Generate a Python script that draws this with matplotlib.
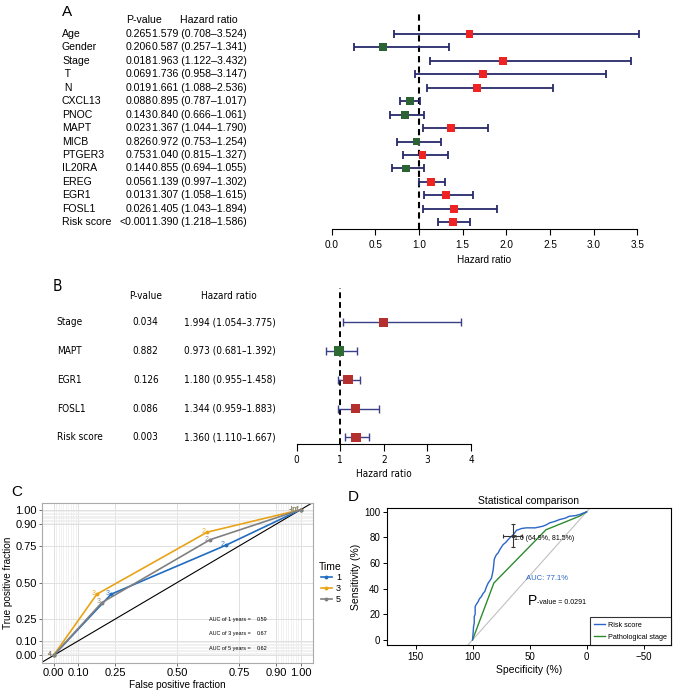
import numpy as np
import matplotlib
matplotlib.use('Agg')
import matplotlib.pyplot as plt
from matplotlib import font_manager
from matplotlib.transforms import blended_transform_factory
from matplotlib.lines import Line2D

W, H = 677, 695
plt.rcParams['font.family'] = ['Liberation Sans', 'DejaVu Sans']

# ---- panel A: univariate cox ----
a_names = ['Age', 'Gender', 'Stage', ' T', ' N', 'CXCL13', 'PNOC', 'MAPT', 'MICB',
           'PTGER3', 'IL20RA', 'EREG', 'EGR1', 'FOSL1', 'Risk score']
a_p = ['0.265', '0.206', '0.018', '0.069', '0.019', '0.088', '0.143', '0.023', '0.826',
       '0.753', '0.144', '0.056', '0.013', '0.026', '<0.001']
a_hr = [1.579, 0.587, 1.963, 1.736, 1.661, 0.895, 0.840, 1.367, 0.972, 1.040, 0.855, 1.139, 1.307, 1.405, 1.390]
a_lo = [0.708, 0.257, 1.122, 0.958, 1.088, 0.787, 0.666, 1.044, 0.753, 0.815, 0.694, 0.997, 1.058, 1.043, 1.218]
a_hi = [3.524, 1.341, 3.432, 3.147, 2.536, 1.017, 1.061, 1.790, 1.254, 1.327, 1.055, 1.302, 1.615, 1.894, 1.586]
a_ticks = [0.0, 0.5, 1.0, 1.5, 2.0, 2.5, 3.0, 3.5]

# ---- panel B: multivariate cox ----
b_names = ['Stage', 'MAPT', 'EGR1', 'FOSL1', 'Risk score']
b_p = ['0.034', '0.882', '0.126', '0.086', '0.003']
b_hr = [1.994, 0.973, 1.180, 1.344, 1.360]
b_lo = [1.054, 0.681, 0.955, 0.959, 1.110]
b_hi = [3.775, 1.392, 1.458, 1.883, 1.667]
b_ticks = [0, 1, 2, 3, 4]

# ---- panel C: time ROC ----
c_times = ['1', '3', '5']
c_fpr = {'1': [0, 0.233, 0.696, 1.0], '3': [0, 0.175, 0.622, 1.0], '5': [0, 0.195, 0.633, 1.0]}
c_tpr = {'1': [0, 0.42, 0.755, 1.0], '3': [0, 0.42, 0.846, 1.0], '5': [0, 0.362, 0.794, 1.0]}
c_cuts = ['4', '3', '2', '-Inf']
c_auc = ['0.59', '0.67', '0.62']
c_colors = {'1': '#1f6cc0', '3': '#e8a317', '5': '#808080'}
c_ticks = [0.0, 0.1, 0.25, 0.5, 0.75, 0.9, 1.0]
c_ticklabels = ['0.00', '0.10', '0.25', '0.50', '0.75', '0.90', '1.00']

# ---- panel D: ROC comparison ----
d_spec_rs = [100, 99.4, 99.1, 98.5, 98.5, 97.7, 97.7, 96.5, 95, 94, 92.1, 91, 89.2, 88, 86.3, 85,
             83.4, 82.5, 81.9, 81.5, 81, 80, 79, 77.5, 76.1, 75, 73.2, 71, 68.8, 67, 65, 63.5,
             61.5, 60, 57, 52.8, 45, 38.2, 35, 32.4, 28, 23.6, 19, 14.9, 10, 6.1, 3, 0]
d_sens_rs = [0, 6.5, 10.4, 13, 18.3, 20, 26.1, 28, 30, 32, 34, 36, 37.9, 41, 44.4, 46,
             48.3, 52, 54.8, 58, 62.7, 65, 66.6, 68, 70.5, 72, 74.4, 76, 78.3, 80, 81.5, 83,
             85.6, 86, 87, 87.5, 87.5, 88.8, 90, 91.4, 92.5, 94, 95, 96.6, 97, 97.9, 99, 100]
d_spec_st = [100, 81.3, 35.6, 6.5, 0]
d_sens_st = [0, 44.4, 86, 96.5, 100]
d_best = (64.9, 81.5)
d_best_xerr = (8.0, 8.3)
d_best_yerr = (9.0, 9.0)

# narrow font for panel B if one is installed
names = {f.name for f in font_manager.fontManager.ttflist}
cond_dv = any(f.name == 'DejaVu Sans' and f.stretch == 'condensed' for f in font_manager.fontManager.ttflist)
if 'Liberation Sans Narrow' in names:
    nfont = dict(family='Liberation Sans Narrow')
    bsize = 8
elif cond_dv:
    nfont = dict(family='DejaVu Sans', stretch='condensed')
    bsize = 7.2
else:
    nfont = dict(family='Liberation Sans')
    bsize = 7

fig = plt.figure(figsize=(W / 100, H / 100), dpi=100)


def ax_px(left, top, right, bottom):
    return fig.add_axes([left / W, 1 - bottom / H, (right - left) / W, (bottom - top) / H])


def forest(ax, hr, lo, hi, ticks, red, green, ecol, ms, lw, cap):
    y = np.arange(len(hr))
    hr = np.array(hr); lo = np.array(lo); hi = np.array(hi)
    ax.errorbar(hr, y, xerr=[hr - lo, hi - hr], fmt='none', ecolor=ecol, elinewidth=lw,
                capsize=cap, capthick=lw, clip_on=False, zorder=2)
    cols = [red if v > 1 else green for v in hr]
    ax.scatter(hr, y, marker='s', s=ms, c=cols, zorder=3, clip_on=False, linewidths=0)
    for s in ['left', 'top', 'right']:
        ax.spines[s].set_visible(False)
    ax.spines['bottom'].set_bounds(ticks[0], ticks[-1])
    ax.set_yticks([])
    ax.set_xticks(ticks)
    ax.set_xlim(ticks[0], ticks[-1])


# ================= A =================
axA = ax_px(331.7, 12, 637.3, 229.3)
axA.set_ylim(14.52, -1.62)
forest(axA, a_hr, a_lo, a_hi, a_ticks, '#ee2424', '#2b6334', '#262a6b', 32, 1.3, 2.8)
axA.plot([1, 1], [14.52, -1.45], color='black', ls=(0, (3, 2)), lw=1.5, zorder=1)
axA.set_xticklabels([f'{t:.1f}' for t in a_ticks])
axA.tick_params(axis='x', labelsize=7.2, length=4, width=0.8, pad=4)
axA.spines['bottom'].set_linewidth(0.8)
axA.set_xlabel('Hazard ratio', fontsize=7.2, labelpad=3)
trA = blended_transform_factory(fig.transFigure, axA.transData)
fig.text(62 / W, 1 - 12.5 / H, 'A', fontsize=11, va='center')
axA.text(126 / W, -1.0, 'P-value', transform=trA, fontsize=7.6, va='center')
axA.text(180 / W, -1.0, 'Hazard ratio', transform=trA, fontsize=7.6, va='center')
for i, (n, p, h, l, u) in enumerate(zip(a_names, a_p, a_hr, a_lo, a_hi)):
    axA.text(62 / W, i, n, transform=trA, fontsize=7.6, va='center')
    axA.text(151.5 / W, i, p, transform=trA, fontsize=7.6, va='center', ha='right')
    axA.text(151.5 / W, i, f'{h:.3f} ({l:.3f}\u2013{u:.3f})', transform=trA, fontsize=7.6, va='center')

# ================= B =================
axB = ax_px(296.7, 288, 471, 444)
axB.set_ylim(4.233, -1.19)
forest(axB, b_hr, b_lo, b_hi, b_ticks, '#b3302f', '#2e6b34', '#3b3f88', 45, 1.0, 2.8)
axB.axvline(1, color='black', ls=(0, (3, 2)), lw=1.4, zorder=1)
axB.tick_params(axis='x', labelsize=bsize, length=5, width=0.8, pad=3)
for t in axB.get_xticklabels():
    t.set(**nfont)
axB.set_xlabel('Hazard ratio', fontsize=bsize, labelpad=3, **nfont)
trB = blended_transform_factory(fig.transFigure, axB.transData)
fig.text(53 / W, 1 - 287 / H, 'B', fontsize=11, va='center', **nfont)
axB.text(145.7 / W, -0.9, 'P-value', transform=trB, fontsize=bsize, va='center', ha='center', **nfont)
axB.text(229.3 / W, -0.9, 'Hazard ratio', transform=trB, fontsize=bsize, va='center', ha='center', **nfont)
for i, (n, p, h, l, u) in enumerate(zip(b_names, b_p, b_hr, b_lo, b_hi)):
    axB.text(56.7 / W, i, n, transform=trB, fontsize=bsize, va='center', **nfont)
    axB.text(145.7 / W, i, p, transform=trB, fontsize=bsize, va='center', ha='center', **nfont)
    axB.text(230 / W, i, f'{h:.3f} ({l:.3f}\u2013{u:.3f})', transform=trB, fontsize=bsize,
             va='center', ha='center', **nfont)

# ================= C =================
axC = ax_px(41.7, 503, 313, 662.7)
axC.set_xlim(-0.048, 1.05)
axC.set_ylim(-0.05, 1.046)
minor = np.r_[np.arange(0, 0.1001, 0.01), np.arange(0.9, 1.0001, 0.01)]
axC.set_xticks(minor, minor=True)
axC.set_yticks(minor, minor=True)
axC.grid(which='minor', color='#ececec', lw=0.5)
axC.grid(which='major', color='#e0e0e0', lw=0.7)
axC.set_axisbelow(True)
axC.set_xticks(c_ticks)
axC.set_xticklabels(c_ticklabels)
axC.set_yticks(c_ticks)
axC.set_yticklabels(c_ticklabels)
axC.tick_params(which='minor', length=0)
axC.tick_params(which='major', labelsize=8, length=2, width=0.6, color='#555555', pad=1.5)
for s in axC.spines.values():
    s.set_color('#aaaaaa'); s.set_linewidth(0.8)
axC.axline((0, 0), (1, 1), color='black', lw=0.8, zorder=1)
for t in c_times:
    axC.plot(c_fpr[t], c_tpr[t], color=c_colors[t], lw=1.2, marker='o', ms=1.8, zorder=2)
for t in c_times:
    for x, y, lab in zip(c_fpr[t], c_tpr[t], c_cuts):
        axC.annotate(lab, (x, y), xytext=(-1, 0.5), textcoords='offset points', fontsize=5,
                     color=c_colors[t], ha='right', va='center', alpha=0.9)
for k, (t, a) in enumerate(zip(c_times, c_auc)):
    yy = 0.248 - 0.101 * k
    axC.text(0.63, yy, f'AUC of {t} years =', fontsize=4, va='center')
    axC.text(0.822, yy, a, fontsize=4, va='center')
axC.set_xlabel('False positive fraction', fontsize=7.2, labelpad=2)
axC.set_ylabel('True positive fraction', fontsize=7.2, labelpad=2)
handles = [Line2D([], [], color=c_colors[t], lw=1.2, marker='o', ms=1.8) for t in c_times]
axC.legend(handles, c_times, title='Time', loc='center left', bbox_to_anchor=(1.0, 0.5),
           frameon=False, fontsize=6.5, title_fontsize=7.5, handlelength=1.3,
           handletextpad=0.4, labelspacing=0.2, borderaxespad=0.3)
fig.text(11.7 / W, 1 - 491.7 / H, 'C', fontsize=11, va='center')

# ================= D =================
axD = ax_px(387, 508, 671, 645)
axD.set_xlim(175, -74)
axD.set_ylim(-4, 103)
axD.axline((100, 0), (0, 100), color='#c0c0c0', lw=0.8, zorder=1)
axD.plot(d_spec_rs, d_sens_rs, color='#2a66c8', lw=1.0, zorder=3, label='Risk score')
axD.plot(d_spec_st, d_sens_st, color='#2e8b2e', lw=1.0, zorder=2, label='Pathological stage')
axD.errorbar(d_best[0], d_best[1], xerr=[[d_best_xerr[0]], [d_best_xerr[1]]],
             yerr=[[d_best_yerr[0]], [d_best_yerr[1]]], color='#333333', lw=0.8,
             capsize=1.2, capthick=0.8, marker='o', ms=1.5, zorder=4)
axD.text(63.5, 79, f'1.0 ({d_best[0]}%, {d_best[1]}%)', fontsize=5, va='center', ha='left')
axD.text(34.7, 47.8, 'AUC: 77.1%', fontsize=5.5, color='#2a66c8', ha='center', va='center')
axD.text(51.5, 30, 'P', fontsize=10, va='center', ha='left')
axD.annotate('-value = 0.0291', (51.5, 29), xytext=(6.5, 0), textcoords='offset points',
             fontsize=5, va='center', ha='left')
axD.set_xticks([150, 100, 50, 0, -50])
axD.set_xticklabels(['150', '100', '50', '0', '\u221250'])
axD.set_yticks([0, 20, 40, 60, 80, 100])
axD.tick_params(labelsize=7, length=3, width=0.7, pad=2)
for s in axD.spines.values():
    s.set_linewidth(0.8)
axD.set_xlabel('Specificity (%)', fontsize=7.5, labelpad=2)
axD.set_ylabel('Sensitivity (%)', fontsize=7.5, labelpad=2)
axD.set_title('Statistical comparison', fontsize=7.5, pad=3)
leg = axD.legend(loc='lower right', fontsize=5.2, frameon=True, fancybox=False,
                 edgecolor='black', borderaxespad=0, handlelength=1.5, handletextpad=0.4,
                 borderpad=0.6, labelspacing=0.7)
leg.get_frame().set_linewidth(0.8)
fig.text(348 / W, 1 - 497 / H, 'D', fontsize=11, va='center')

fig.savefig('out.png', dpi=100)
